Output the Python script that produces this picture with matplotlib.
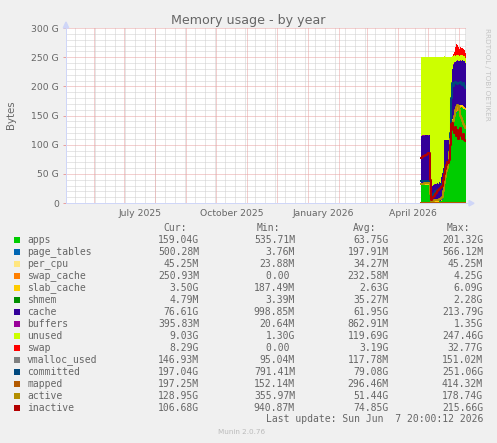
import matplotlib
matplotlib.use("Agg")
import matplotlib.pyplot as plt
import matplotlib.dates as mdates
import numpy as np
from datetime import datetime, timedelta

# graph window: munin "by year" = 400 days up to last update
t_end = datetime(2026, 6, 7, 20, 0, 12)
t_start = t_end - timedelta(days=400)
first_day = datetime(2026, 4, 24)

# daily values in G (Apr 24 .. Jun 7 2026)
apps = [31, 31, 31, 31, 31, 31, 31, 31, 31, 10, 2, 2, 2, 2, 2, 2, 2, 2, 3, 3, 4, 6,
        20, 35, 45, 55, 62, 70, 90, 115, 130, 138, 142, 146, 150, 155, 158, 160, 162, 163, 164, 163, 161, 160, 159]
page_tables = [0.4, 0.4, 0.4, 0.4, 0.4, 0.4, 0.4, 0.4, 0.4, 0.1, 0.1, 0.1, 0.1, 0.1, 0.1, 0.1, 0.1, 0.1, 0.1, 0.1, 0.1, 0.1,
               0.2, 0.3, 0.3, 0.3, 0.3, 0.3, 0.4, 0.5, 0.5, 0.5, 0.5, 0.5, 0.5, 0.5, 0.5, 0.5, 0.5, 0.5, 0.5, 0.5, 0.5, 0.5, 0.5]
per_cpu = [0.03, 0.03, 0.03, 0.03, 0.03, 0.03, 0.03, 0.03, 0.03, 0.03, 0.03, 0.03, 0.03, 0.03, 0.03, 0.03, 0.03, 0.03, 0.03, 0.03, 0.03, 0.03,
           0.03, 0.03, 0.03, 0.03, 0.03, 0.03, 0.03, 0.04, 0.04, 0.04, 0.04, 0.04, 0.04, 0.04, 0.04, 0.04, 0.04, 0.04, 0.04, 0.04, 0.04, 0.05, 0.05]
swap_cache = [0, 0, 0, 0, 0, 0, 0, 0, 0, 0, 0, 0, 0, 0, 0, 0, 0, 0, 0, 0, 0, 0,
              0, 0, 0, 0, 0, 0, 0, 0, 0, 0, 0.5, 1.5, 2.5, 4.2, 3.5, 2.0, 1.2, 1.0, 0.8, 0.6, 0.4, 0.3, 0.25]
slab_cache = [3.0, 3.0, 3.0, 3.0, 3.0, 3.0, 3.0, 3.0, 3.0, 1.0, 0.5, 0.5, 0.5, 0.5, 0.5, 0.5, 0.5, 0.5, 0.5, 0.5, 0.6, 0.8,
              1.5, 2.0, 2.2, 2.4, 2.5, 2.6, 3.0, 3.5, 4.5, 5.5, 6.0, 5.5, 5.0, 4.5, 4.0, 3.8, 3.6, 3.5, 3.5, 3.5, 3.5, 3.5, 3.5]
shmem = [0.01, 0.01, 0.01, 0.01, 0.01, 0.01, 0.01, 0.01, 0.01, 0.01, 0.01, 0.01, 0.01, 0.01, 0.01, 0.01, 0.01, 0.01, 0.01, 0.01, 0.01, 0.01,
         0.01, 0.01, 0.01, 0.01, 0.01, 0.01, 0.01, 0.01, 0.01, 0.01, 0.01, 0.01, 0.01, 0.01, 0.01, 0.01, 0.01, 0.01, 0.01, 0.01, 0.01, 0.01, 0.01]
cache = [80, 81, 81, 81, 82, 82, 82, 81, 82, 14, 22, 27, 28, 29, 30, 30, 31, 30, 32, 31, 40, 45,
         38, 70, 60, 50, 43, 35, 14, 12, 50, 85, 88, 87, 83, 79, 78, 77, 76, 76, 75, 77, 78, 79, 76.6]
buffers = [0.6, 0.6, 0.6, 0.6, 0.6, 0.6, 0.6, 0.6, 0.6, 0.1, 0.1, 0.1, 0.1, 0.1, 0.1, 0.1, 0.1, 0.1, 0.1, 0.1, 0.1, 0.1,
           0.2, 0.3, 0.3, 0.3, 0.3, 0.3, 0.4, 0.5, 1.0, 1.3, 1.2, 1.0, 0.8, 0.6, 0.5, 0.5, 0.4, 0.4, 0.4, 0.4, 0.4, 0.4, 0.4]
unused = [135, 134, 134, 134, 133, 133, 133, 134, 133, 225, 226, 221, 220, 219, 218, 218, 217, 218, 215, 216, 206, 199,
          191, 144, 143, 143, 143, 142, 143, 119, 65, 21, 13, 12, 11, 10, 10, 10, 9, 9, 9, 9, 9, 9, 9]
swap = [0, 0, 0, 0, 0, 0, 0, 0, 0, 0, 0, 0, 0, 0, 0, 0, 0, 0, 0, 0, 0, 0,
        0, 0, 0, 0, 0, 0, 0, 0, 0, 0, 4, 6, 15, 18, 17, 14, 12, 14, 13, 12, 11, 10, 8.3]

vmalloc_used = [0.1] * 45
committed = [37, 37, 37, 37, 37, 37, 37, 37, 37, 18, 12, 14, 16, 18, 20, 21, 22, 23, 24, 25, 30, 35,
             40, 55, 60, 62, 65, 70, 90, 120, 180, 205, 200, 206, 207, 205, 204, 206, 205, 207, 204, 203, 205, 200, 197]
mapped = [0.2] * 45
active = [33, 33, 33, 34, 34, 34, 34, 35, 35, 15, 3, 4, 4, 5, 5, 6, 6, 6, 7, 7, 8, 10,
          20, 35, 45, 55, 60, 68, 88, 110, 128, 135, 140, 150, 160, 165, 168, 166, 160, 150, 145, 140, 135, 132, 129]
inactive = [78, 79, 80, 81, 82, 83, 84, 85, 85, 40, 5, 8, 10, 12, 15, 18, 20, 22, 24, 25, 28, 30,
            40, 50, 58, 65, 70, 68, 74, 100, 135, 137, 125, 120, 130, 115, 125, 110, 120, 128, 115, 110, 118, 108, 107]

names = ["apps", "page_tables", "per_cpu", "swap_cache", "slab_cache", "shmem", "cache", "buffers",
         "unused", "swap", "vmalloc_used", "committed", "mapped", "active", "inactive"]
colors = ["#00CC00", "#0066B3", "#FFE680", "#FF8000", "#FFCC00", "#008F00", "#330099", "#990099",
          "#CCFF00", "#FF0000", "#808080", "#00487D", "#B35A00", "#B38F00", "#B30000"]
cur = ["159.04G", "500.28M", "45.25M", "250.93M", "3.50G", "4.79M", "76.61G", "395.83M",
       "9.03G", "8.29G", "146.93M", "197.04G", "197.25M", "128.95G", "106.68G"]
vmin = ["535.71M", "3.76M", "23.88M", "0.00 ", "187.49M", "3.39M", "998.85M", "20.64M",
        "1.30G", "0.00 ", "95.04M", "791.41M", "152.14M", "355.97M", "940.87M"]
avg = ["63.75G", "197.91M", "34.27M", "232.58M", "2.63G", "35.27M", "61.95G", "862.91M",
       "119.69G", "3.19G", "117.78M", "79.08G", "296.46M", "51.44G", "74.85G"]
vmax = ["201.32G", "566.12M", "45.25M", "4.25G", "6.09G", "2.28G", "213.79G", "1.35G",
        "247.46G", "32.77G", "151.02M", "251.06G", "414.32M", "178.74G", "215.66G"]

month_labels = ["July 2025", "October 2025", "January 2026", "April 2026"]
month_label_dates = [datetime(2025, 7, 16, 12), datetime(2025, 10, 16, 12),
                     datetime(2026, 1, 16, 12), datetime(2026, 4, 16)]

W, H = 497, 443
FONT = "#666666"
AXIS = "#CFD6F8"
MGRID = "#E8A0A0"
GRID = "#CFCFCF"

fig = plt.figure(figsize=(W / 100, H / 100), dpi=100, facecolor="#F0F0F0")
ax = fig.add_axes([66 / W, 1 - 203 / H, 400 / W, 175 / H])
ax.set_facecolor("white")

def px(x, y):
    return x / W, 1 - y / H

# x edges of the daily steps
days = [first_day + timedelta(days=i) for i in range(len(apps))]
edges = mdates.date2num(days + [t_end])

def pad(v):
    return np.append(np.array(v, dtype=float), v[-1])

stack = [apps, page_tables, per_cpu, swap_cache, slab_cache, shmem, cache, buffers, unused, swap]
ax.stackplot(edges, *[pad(s) for s in stack], colors=colors[:10], step="post", linewidth=0, zorder=3)

lines = [vmalloc_used, committed, mapped, active, inactive]
for s, c in zip(lines, colors[10:]):
    ax.step(edges, pad(s), where="post", color=c, lw=1.45, zorder=4)

ax.set_xlim(mdates.date2num(t_start), mdates.date2num(t_end))
ax.set_ylim(0, 300)

# grid: red at month starts / 50G, grey every 10 days / 10G
mstarts = []
d = datetime(2025, 6, 1)
while d < t_end:
    mstarts.append(mdates.date2num(d))
    d = datetime(d.year + (d.month == 12), d.month % 12 + 1, 1)
tens = []
d = datetime(2025, 5, 3)
while d < t_end:
    tens.append(mdates.date2num(d))
    d += timedelta(days=10)

for xv in tens:
    ax.axvline(xv, color=GRID, lw=0.72, ls=(0, (1, 1)), zorder=1)
for yv in range(10, 300, 10):
    if yv % 50:
        ax.axhline(yv, color=GRID, lw=0.72, ls=(0, (1, 1)), zorder=1)
for xv in mstarts:
    ax.axvline(xv, color=MGRID, lw=0.72, ls=(0, (1, 1)), zorder=2)
for yv in range(50, 301, 50):
    ax.axhline(yv, color=MGRID, lw=0.72, ls=(0, (1, 1)), zorder=2)

for sp in ["top", "right"]:
    ax.spines[sp].set_visible(False)
for sp in ["left", "bottom"]:
    ax.spines[sp].set_color(AXIS)
    ax.spines[sp].set_linewidth(0.72)
    ax.spines[sp].set_zorder(5)

ax.set_yticks(range(0, 301, 50))
ax.set_yticklabels(["0"] + ["%d G" % v for v in range(50, 301, 50)])
ax.tick_params(axis="y", length=2.2, width=0.72, color=MGRID, labelsize=6.7, labelcolor=FONT, pad=3)
ax.set_xticks(mdates.date2num(month_label_dates))
ax.set_xticklabels(month_labels)
ax.tick_params(axis="x", length=0, labelsize=6.7, labelcolor=FONT, pad=4)

# axis arrows
fig.patches.append(plt.Polygon([px(469, 200.5), px(469, 206), px(474, 203.3)], closed=True,
                               transform=fig.transFigure, color=AXIS))
fig.patches.append(plt.Polygon([px(63.3, 28), px(68.7, 28), px(66, 22)], closed=True,
                               transform=fig.transFigure, color=AXIS))
fig.lines.append(plt.Line2D([466 / W, 469 / W], [1 - 203.3 / H] * 2, transform=fig.transFigure, color=AXIS, lw=0.72))

fig.text(*px(248, 24.3), "Memory usage - by year", ha="center", va="baseline", fontsize=9.1, color=FONT)
fig.text(*px(11, 115), "Bytes", ha="center", va="center", rotation=90, fontsize=7.3, color=FONT)
fig.text(*px(487, 28), "RRDTOOL / TOBI OETIKER", ha="center", va="top", rotation=270,
         fontsize=5.2, color="#C4C4C4")
fig.text(*px(242, 432), "Munin 2.0.76", ha="center", va="center", fontsize=5.2, color="#BBBBBB")

# legend
mono = dict(family="DejaVu Sans Mono", fontsize=7, color=FONT, va="center")
fig.text(*px(163, 228), "Cur:", ha="left", **mono)
fig.text(*px(257, 228), "Min:", ha="left", **mono)
fig.text(*px(353, 228), "Avg:", ha="left", **mono)
fig.text(*px(447, 228), "Max:", ha="left", **mono)
for i, name in enumerate(names):
    y = 240 + 12 * i
    fig.patches.append(plt.Rectangle(px(14, y + 3), 6 / W, 6 / H, transform=fig.transFigure,
                                     color=colors[i], lw=0))
    fig.text(*px(27, y), name, ha="left", **mono)
    fig.text(*px(199, y), cur[i], ha="right", **mono)
    fig.text(*px(295, y), vmin[i], ha="right", **mono)
    fig.text(*px(388.5, y), avg[i], ha="right", **mono)
    fig.text(*px(483, y), vmax[i], ha="right", **mono)
fig.text(*px(483, 419), "Last update: Sun Jun  7 20:00:12 2026", ha="right", **mono)

fig.savefig("out.png", dpi=100, facecolor=fig.get_facecolor())
